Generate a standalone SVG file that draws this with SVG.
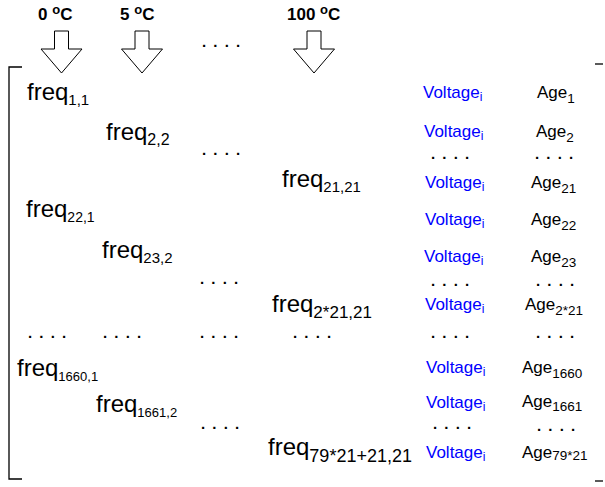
<svg xmlns="http://www.w3.org/2000/svg" width="605" height="487" viewBox="0 0 605 487">
  <style>
    text { font-family: "Liberation Sans", Arial, sans-serif; fill: #000; }
    .hdr { font-size: 17px; font-weight: bold; }
    .sup { font-size: 13px; }
    .fq { font-size: 24px; }
    .vt { font-size: 17px; fill: #0000ff; }
    .vt tspan { font-size: 12px; }
    .ag { font-size: 17px; }
    .ag tspan { font-size: 13.5px; }
    .dots { font-size: 15px; font-weight: bold; letter-spacing: 1.5px; }
    .arrow { fill: #fff; stroke: #000; stroke-width: 1; stroke-linejoin: miter; }
    .brk { fill: none; stroke: #000; stroke-width: 1.3; }
  </style>
  <defs>
    <!-- hollow down arrow, centred on x = 0 -->
    <polygon id="downArrow" class="arrow" points="-7,31 7,31 7,49 20.5,49 0,73 -20.5,49 -7,49"/>
  </defs>

  <!-- temperature headers -->
  <g id="headers">
    <text class="hdr" x="38" y="20">0 <tspan class="sup" dy="-6">o</tspan><tspan dy="6">C</tspan></text>
    <text class="hdr" x="120" y="20">5 <tspan class="sup" dy="-6">o</tspan><tspan dy="6">C</tspan></text>
    <text class="hdr" x="287" y="20">100 <tspan class="sup" dy="-6">o</tspan><tspan dy="6">C</tspan></text>
    <text class="dots" x="202" y="47">. . . .</text>
  </g>

  <!-- arrows into the matrix -->
  <g id="arrows">
    <use href="#downArrow" x="61.5" y="0"/>
    <use href="#downArrow" x="142" y="0"/>
    <use href="#downArrow" x="314" y="0"/>
  </g>

  <!-- matrix brackets -->
  <g id="brackets">
    <path class="brk" d="M22,67 H9 V479 H22"/>
    <path class="brk" d="M595,64 H603"/>
    <path class="brk" d="M595,481 H603"/>
  </g>

  <!-- frequency entries -->
  <g id="freq">
    <text class="fq" x="27" y="100">freq<tspan font-size="15" dy="5">1,1</tspan></text>
    <text class="fq" x="106" y="140">freq<tspan font-size="16" dy="5">2,2</tspan></text>
    <text class="fq" x="282" y="187">freq<tspan font-size="15" dy="5">21,21</tspan></text>
    <text class="fq" x="26" y="217">freq<tspan font-size="14" dy="5">22,1</tspan></text>
    <text class="fq" x="102" y="258">freq<tspan font-size="15" dy="5">23,2</tspan></text>
    <text class="fq" x="272" y="312">freq<tspan font-size="17" dy="6">2*21,21</tspan></text>
    <text class="fq" x="17" y="376">freq<tspan font-size="13" dy="5">1660,1</tspan></text>
    <text class="fq" x="96" y="412">freq<tspan font-size="13" dy="5">1661,2</tspan></text>
    <text class="fq" x="268" y="455">freq<tspan font-size="18" dy="7">79*21+21,21</tspan></text>
  </g>

  <!-- elided matrix cells -->
  <g id="gaps">
    <text class="dots" x="202" y="155">. . . .</text>
    <text class="dots" x="200" y="284">. . . .</text>
    <text class="dots" x="28" y="338">. . . .</text>
    <text class="dots" x="103" y="338">. . . .</text>
    <text class="dots" x="200" y="338">. . . .</text>
    <text class="dots" x="293" y="338">. . . .</text>
    <text class="dots" x="201" y="429">. . . .</text>
  </g>

  <!-- voltage column -->
  <g id="voltage">
    <text class="vt" x="423" y="98">Voltage<tspan dy="3">i</tspan></text>
    <text class="vt" x="424" y="137">Voltage<tspan dy="3">i</tspan></text>
    <text class="dots" x="431" y="159">. . . .</text>
    <text class="vt" x="425" y="188">Voltage<tspan dy="3">i</tspan></text>
    <text class="vt" x="425" y="225">Voltage<tspan dy="3">i</tspan></text>
    <text class="vt" x="424" y="262">Voltage<tspan dy="3">i</tspan></text>
    <text class="dots" x="431" y="286">. . . .</text>
    <text class="vt" x="425" y="310">Voltage<tspan dy="3">i</tspan></text>
    <text class="dots" x="431" y="338">. . . .</text>
    <text class="vt" x="426" y="373">Voltage<tspan dy="3">i</tspan></text>
    <text class="vt" x="426" y="408">Voltage<tspan dy="3">i</tspan></text>
    <text class="dots" x="433" y="429">. . . .</text>
    <text class="vt" x="426" y="458">Voltage<tspan dy="3">i</tspan></text>
  </g>

  <!-- age column -->
  <g id="age">
    <text class="ag" x="537" y="98">Age<tspan dy="5">1</tspan></text>
    <text class="ag" x="536" y="137">Age<tspan dy="5">2</tspan></text>
    <text class="dots" x="535" y="159">. . . .</text>
    <text class="ag" x="531" y="188">Age<tspan dy="5">21</tspan></text>
    <text class="ag" x="531" y="225">Age<tspan dy="5">22</tspan></text>
    <text class="ag" x="531" y="262">Age<tspan dy="5">23</tspan></text>
    <text class="dots" x="536" y="286">. . . .</text>
    <text class="ag" x="525" y="310">Age<tspan dy="5">2*21</tspan></text>
    <text class="dots" x="536" y="338">. . . .</text>
    <text class="ag" x="522" y="373">Age<tspan dy="5">1660</tspan></text>
    <text class="ag" x="522" y="407">Age<tspan dy="4">1661</tspan></text>
    <text class="dots" x="537" y="431">. . . .</text>
    <text class="ag" x="522" y="458">Age<tspan font-size="16" dy="2">79*21</tspan></text>
  </g>
</svg>
